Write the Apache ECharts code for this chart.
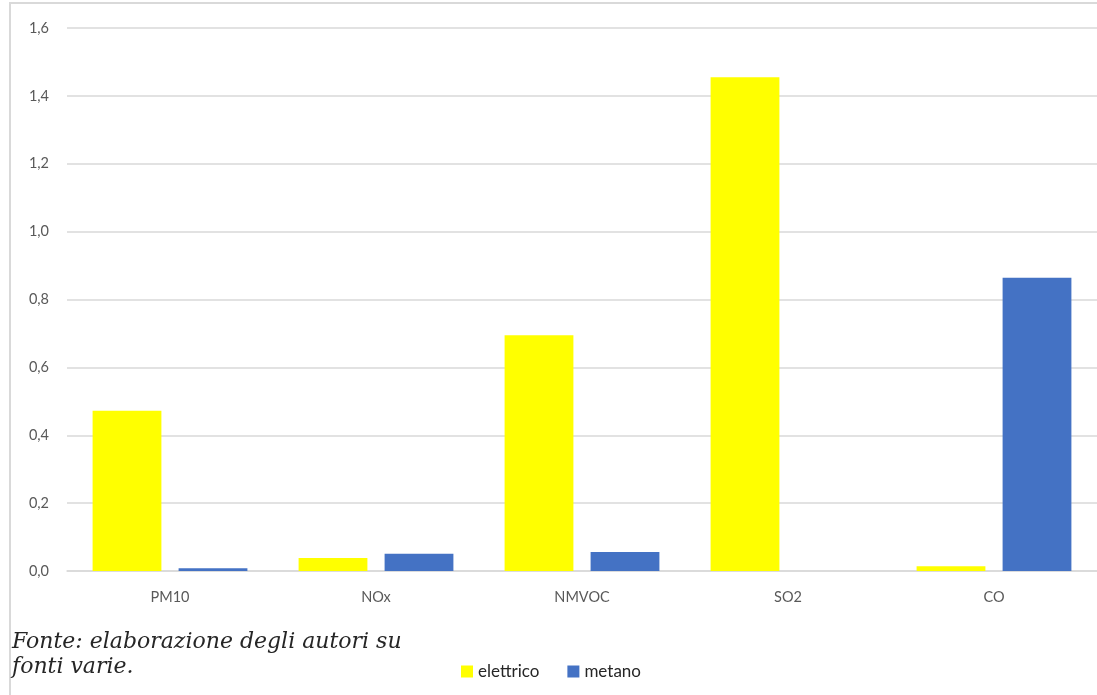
<!DOCTYPE html>
<html>
<head>
<meta charset="utf-8">
<script src="https://cdn.jsdelivr.net/npm/echarts@6/dist/echarts.min.js"></script>
<style>
html,body{margin:0;padding:0;background:#fff;}
#chart{width:1097px;height:695px;}
</style>
</head>
<body>
<div id="chart"></div>
<script>
var categories = ['PM10', 'NOx', 'NMVOC', 'SO2', 'CO'];
var elettrico = [0.472, 0.038, 0.695, 1.455, 0.014];
var metano = [0.008, 0.051, 0.056, 0, 0.864];
var seriesNames = ['elettrico', 'metano'];
var yTicks = { min: 0, max: 1.6, interval: 0.2 };
var caption = 'Fonte: elaborazione degli autori su\nfonti varie.';

var chart = echarts.init(document.getElementById('chart'), null, { renderer: 'canvas' });
chart.setOption({
  animation: false,
  backgroundColor: '#ffffff',
  grid: { left: 67, top: 28, width: 1032, height: 543, containLabel: false },
  legend: {
    left: 456, top: 658,
    itemWidth: 12, itemHeight: 12, itemGap: 28,
    icon: 'rect',
    textStyle: { fontFamily: 'Lato', fontSize: 17, color: '#262626', padding: [0, 0, 0, 0] },
    data: seriesNames
  },
  xAxis: {
    type: 'category',
    data: categories,
    axisLine: { show: true, lineStyle: { color: '#d9d9d9', width: 1.5 } },
    axisTick: { show: false },
    axisLabel: { color: '#595959', fontFamily: 'Lato', fontSize: 14.5, margin: 19 }
  },
  yAxis: {
    type: 'value',
    min: yTicks.min, max: yTicks.max, interval: yTicks.interval,
    axisLine: { show: false },
    axisTick: { show: false },
    splitLine: { lineStyle: { color: '#d9d9d9', width: 1.5 } },
    axisLabel: {
      color: '#595959', fontFamily: 'Lato', fontSize: 14.5, margin: 18,
      formatter: function (v) { return v.toFixed(1).replace('.', ','); }
    }
  },
  series: [
    {
      name: seriesNames[0], type: 'bar', data: elettrico,
      barWidth: '33.4%', barGap: '25%',
      itemStyle: { color: '#ffff00' }
    },
    {
      name: seriesNames[1], type: 'bar', data: metano,
      barWidth: '33.4%', barGap: '25%',
      itemStyle: { color: '#4472c4' }
    }
  ],
  graphic: [
    {
      type: 'rect', silent: true,
      shape: { x: 10, y: 3, width: 1200, height: 800 },
      style: { fill: 'none', stroke: '#d9d9d9', lineWidth: 2 }
    },
    {
      type: 'text', left: 12, top: 630,
      style: {
        text: caption,
        fontFamily: 'DejaVu Serif', fontStyle: 'italic', fontSize: 22,
        lineHeight: 25, fill: '#262626'
      }
    }
  ]
});
</script>
</body>
</html>
